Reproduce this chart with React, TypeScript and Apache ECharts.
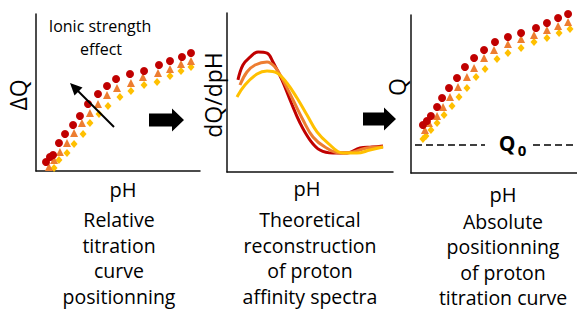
import React, { useEffect, useRef } from 'react';
import * as echarts from 'echarts';

const RED = '#C00000';
const ORANGE = '#ED7D31';
const YELLOW = '#FFC000';
const FONT = '"Open Sans", "Noto Sans", sans-serif';

// Panel 1 — relative titration curves (ΔQ vs pH), three ionic strengths
const relRed = [[6.1,5.7],[8.5,8.9],[10.4,10.2],[14.0,17.8],[17.7,23.6],[22.6,29.3],[26.8,35.0],[31.7,42.7],[37.8,49.0],[43.3,54.1],[48.8,58.6],[57.3,61.8],[65.9,63.7],[75.0,67.5],[81.7,70.1],[89.0,72.6],[94.5,75.2]];
const relOrange = [[7.9,2.5],[11.0,7.0],[14.6,12.1],[18.9,17.8],[23.2,24.2],[28.0,30.6],[32.9,36.9],[37.8,42.7],[43.3,48.4],[49.4,52.9],[57.9,56.1],[65.2,59.9],[74.4,62.4],[81.7,65.0],[88.4,68.2],[94.5,70.1]];
const relYellow = [[11.0,1.9],[14.0,7.0],[18.9,11.5],[23.2,17.2],[28.7,23.6],[32.9,30.6],[38.4,36.3],[43.9,41.4],[51.2,47.1],[57.9,51.0],[65.9,54.8],[73.8,56.7],[81.7,60.5],[88.4,63.7],[94.5,66.2]];

// Panel 2 — proton affinity spectra (dQ/dpH vs pH)
const specRed = [[6.6,57.9],[9.6,67.3],[13.9,72.3],[18.7,75.5],[24.1,74.8],[27.7,69.2],[33.1,57.9],[38.0,45.3],[44.0,30.8],[50.0,20.1],[56.0,13.8],[63.9,11.9],[72.3,11.9],[80.1,15.1],[87.3,15.7],[94.0,16.4]];
const specOrange = [[7.8,54.7],[12.0,62.9],[16.9,67.3],[24.1,69.2],[28.9,66.0],[33.7,57.9],[39.8,45.3],[45.8,32.7],[51.8,22.0],[59.0,15.7],[68.1,11.9],[75.9,12.6],[84.3,15.1],[94.0,15.7]];
const specYellow = [[6.0,47.2],[10.8,54.7],[18.1,61.6],[24.1,63.5],[30.1,62.3],[36.1,56.0],[42.2,46.5],[48.2,35.8],[54.2,25.2],[60.8,18.2],[69.9,11.9],[78.3,11.9],[86.1,13.8],[94.0,15.7]];

// Panel 3 — absolute titration curves (Q vs pH)
const absRed = [[7.2,30.4],[9.6,32.9],[12.0,36.1],[15.7,41.8],[18.7,47.5],[22.9,53.8],[27.7,60.1],[32.5,67.1],[38.0,72.8],[44.0,77.8],[50.6,82.9],[58.4,86.1],[66.3,88.6],[75.3,91.8],[81.9,94.9],[88.6,98.1],[94.6,100.6]];
const absOrange = [[8.4,27.2],[10.8,31.6],[15.7,36.1],[19.3,41.8],[23.5,48.1],[28.3,54.4],[33.7,60.8],[38.0,66.5],[44.0,72.8],[50.0,77.8],[58.4,81.6],[66.3,84.8],[74.1,87.3],[81.9,90.5],[88.6,93.0],[94.6,95.6]];
const absYellow = [[7.2,21.5],[9.0,23.4],[12.0,27.2],[15.7,31.6],[19.9,36.7],[24.7,42.4],[28.9,48.1],[33.7,53.8],[39.2,60.8],[44.6,65.8],[51.8,72.2],[58.4,75.9],[66.3,79.1],[74.1,82.9],[81.9,85.4],[89.2,88.6],[95.8,91.1]];
const Q0_LEVEL = 17.7;
const Q0_GAP = [44.6, 73.5];

const panelTitles = [
  ['Relative', 'titration', 'curve', 'positionning'],
  ['Theoretical', 'reconstruction', 'of proton', 'affinity spectra'],
  ['Absolute', 'positionning', 'of proton', 'titration curve'],
];
const yNames = ['ΔQ', 'dQ/dpH', 'Q'];
const xName = 'pH';

const grids = [
  { left: 36, top: 14, width: 164, height: 157 },
  { left: 227, top: 13, width: 166, height: 159 },
  { left: 411, top: 15, width: 166, height: 158 },
];

function axis(i: number) {
  return {
    type: 'value', gridIndex: i, min: 0, max: 100,
    axisLine: { show: true, onZero: false, lineStyle: { color: '#111', width: 1.5 } },
    axisTick: { show: false }, axisLabel: { show: false }, splitLine: { show: false },
  };
}

function scatter(i: number, data: number[][], symbol: string, size: any, color: string, z: number, extra: any = {}) {
  return {
    type: 'scatter', xAxisIndex: i, yAxisIndex: i, data, symbol, symbolSize: size,
    itemStyle: { color, opacity: 1 }, clip: false, z, silent: true, ...extra,
  };
}

function curve(data: number[][], color: string, z: number) {
  return {
    type: 'line', xAxisIndex: 1, yAxisIndex: 1, data, smooth: 0.4, symbol: 'none',
    lineStyle: { color, width: 3 }, z, silent: true,
  };
}

function txt(text: string, x: number, y: number, size: number, extra: any = {}) {
  return {
    type: 'text', x, y, z: 100,
    style: { text, fill: '#000', font: `${size}px ${FONT}`, align: 'center', verticalAlign: 'middle', ...extra },
  };
}

function blockArrow(x0: number, x1: number, xh: number, cy: number) {
  return {
    type: 'polygon', z: 100,
    shape: { points: [[x0, cy - 6.5], [xh, cy - 6.5], [xh, cy - 11.5], [x1, cy], [xh, cy + 11.5], [xh, cy + 6.5], [x0, cy + 6.5]] },
    style: { fill: '#000' },
  };
}

export default function App() {
  const ref = useRef<HTMLDivElement>(null);
  useEffect(() => {
    if (!ref.current) return;
    const chart = echarts.init(ref.current, null, { renderer: 'svg' });
    const centers = [119, 310, 503];
    const pHPos = [[123, 189], [307, 188], [503, 194]];
    const titleY = [[219, 245, 270.5, 296], [219, 245, 270.5, 296], [221, 246.5, 272, 297]];
    const graphics: any[] = [];
    panelTitles.forEach((lines, p) => {
      lines.forEach((l, k) => graphics.push(txt(l, centers[p], titleY[p][k], 19.5)));
      graphics.push(txt(xName, pHPos[p][0], pHPos[p][1], 20));
    });
    const yNamePos = [[18, 95], [213, 95], [397, 87]];
    yNames.forEach((n, i) => graphics.push({ ...txt(n, yNamePos[i][0], yNamePos[i][1], 23), rotation: Math.PI / 2 }));
    graphics.push(txt('Ionic strength', 100, 26, 16));
    graphics.push(txt('effect', 101, 49, 16));
    graphics.push({ type: 'line', z: 100, shape: { x1: 114, y1: 127, x2: 78, y2: 91 }, style: { stroke: '#000', lineWidth: 2 } });
    graphics.push({ type: 'polygon', z: 100, shape: { points: [[70, 83], [82.5, 87.5], [74.5, 95.5]] }, style: { fill: '#000' } });
    graphics.push(blockArrow(149, 184, 172, 120));
    graphics.push(blockArrow(363, 396, 384, 119));
    graphics.push(txt('Q', 507, 143, 21, { font: `bold 21px ${FONT}` }));
    graphics.push(txt('0', 522, 150, 15, { font: `bold 15px ${FONT}` }));

    chart.setOption({
      animation: false,
      grid: grids,
      xAxis: [axis(0), axis(1), axis(2)],
      yAxis: [axis(0), axis(1), axis(2)],
      series: [
        scatter(0, relYellow, 'diamond', [7, 8], YELLOW, 2),
        scatter(0, relOrange, 'triangle', 8, ORANGE, 3),
        scatter(0, relRed, 'circle', 8, RED, 4),
        curve(specRed, RED, 2),
        curve(specOrange, ORANGE, 3),
        curve(specYellow, YELLOW, 4),
        scatter(2, absYellow, 'diamond', [7, 8], YELLOW, 2, {
          markLine: {
            silent: true, symbol: 'none', label: { show: false },
            lineStyle: { color: '#000', width: 1.5, type: [7, 4] },
            data: [
              [{ coord: [2.4, Q0_LEVEL] }, { coord: [Q0_GAP[0], Q0_LEVEL] }],
              [{ coord: [Q0_GAP[1], Q0_LEVEL] }, { coord: [100, Q0_LEVEL] }],
            ],
          },
        }),
        scatter(2, absOrange, 'triangle', 8, ORANGE, 3),
        scatter(2, absRed, 'circle', 8, RED, 4),
      ],
      graphic: graphics,
    });
    return () => chart.dispose();
  }, []);
  return <div ref={ref} style={{ position: 'fixed', left: 0, top: 0, width: 577, height: 309, background: '#fff' }} />;
}
